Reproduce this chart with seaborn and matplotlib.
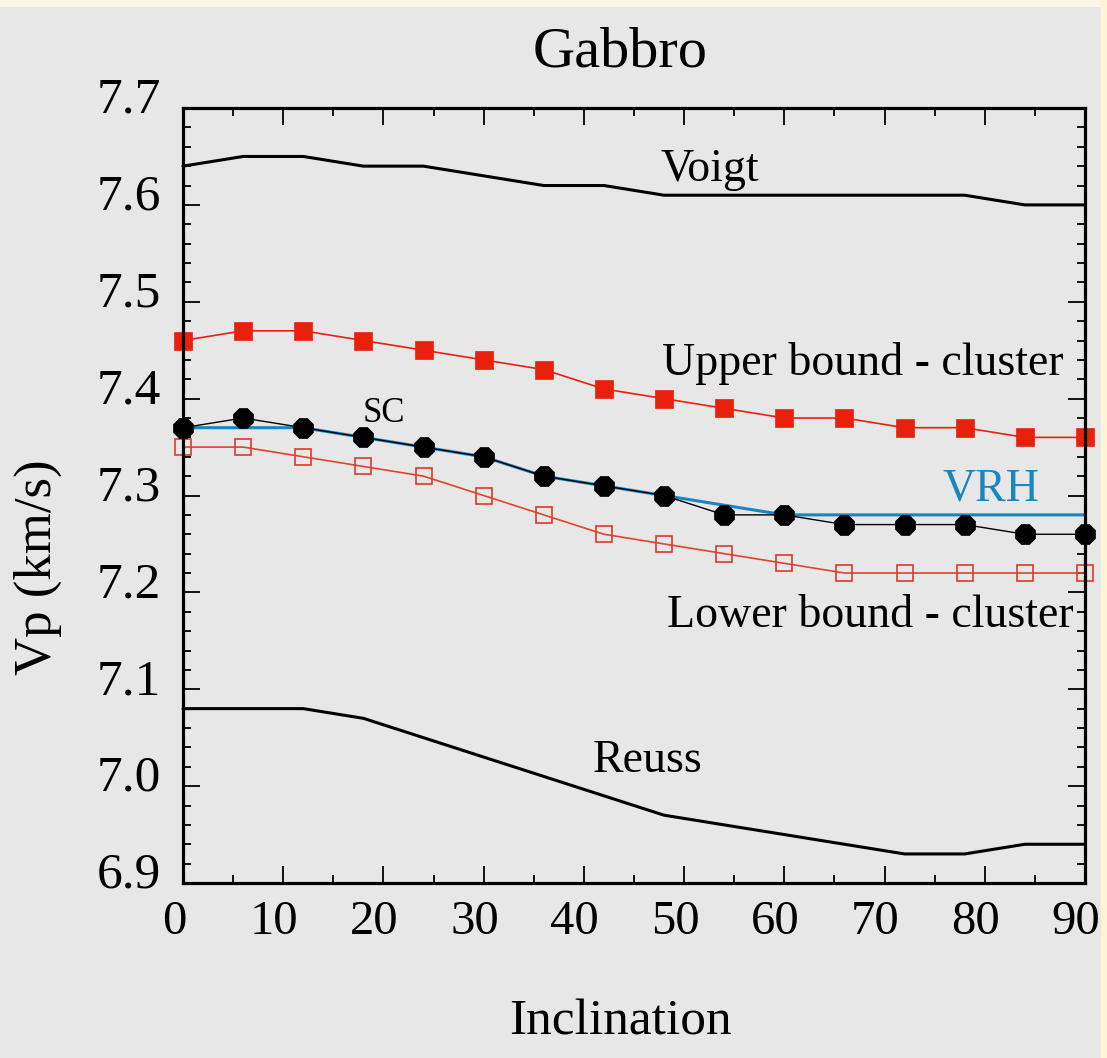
import numpy as np
import pandas as pd
import matplotlib
matplotlib.use("Agg")
import matplotlib.pyplot as plt
from matplotlib.patches import Rectangle
from matplotlib.ticker import MultipleLocator
from matplotlib.transforms import ScaledTranslation
import seaborn as sns

# Dados (Vp em km/s vs inclinação)
inclination = [0, 6, 12, 18, 24, 30, 36, 42, 48, 54, 60, 66, 72, 78, 84, 90]
voigt = [7.64, 7.65, 7.65, 7.64, 7.64, 7.63, 7.62, 7.62, 7.61, 7.61, 7.61, 7.61, 7.61, 7.61, 7.60, 7.60]
upper_cluster = [7.46, 7.47, 7.47, 7.46, 7.45, 7.44, 7.43, 7.41, 7.40, 7.39, 7.38, 7.38, 7.37, 7.37, 7.36, 7.36]
sc = [7.37, 7.38, 7.37, 7.36, 7.35, 7.34, 7.32, 7.31, 7.30, 7.28, 7.28, 7.27, 7.27, 7.27, 7.26, 7.26]
vrh = [7.37, 7.37, 7.37, 7.36, 7.35, 7.34, 7.32, 7.31, 7.30, 7.29, 7.28, 7.28, 7.28, 7.28, 7.28, 7.28]
lower_cluster = [7.35, 7.35, 7.34, 7.33, 7.32, 7.30, 7.28, 7.26, 7.25, 7.24, 7.23, 7.22, 7.22, 7.22, 7.22, 7.22]
reuss = [7.08, 7.08, 7.08, 7.07, 7.05, 7.03, 7.01, 6.99, 6.97, 6.96, 6.95, 6.94, 6.93, 6.93, 6.94, 6.94]

df = pd.DataFrame({
    "Inclination": inclination,
    "Voigt": voigt,
    "Upper": upper_cluster,
    "SC": sc,
    "VRH": vrh,
    "Lower": lower_cluster,
    "Reuss": reuss,
})

bg = "#e7e7e7"
red = "#e8200c"
blue = "#1a86bd"

sns.set_style("ticks", {"axes.facecolor": bg, "figure.facecolor": bg})
plt.rcParams["font.family"] = ["Liberation Serif", "DejaVu Serif"]
plt.rcParams["text.color"] = "black"
plt.rcParams["axes.labelcolor"] = "black"
plt.rcParams["xtick.color"] = "black"
plt.rcParams["ytick.color"] = "black"

fig = plt.figure(figsize=(11.07, 10.58), dpi=100)
ax = fig.add_axes([0.1653, 0.1654, 0.8148, 0.7325])

# faixas de cor nas bordas da imagem original (atrás de tudo)
fig.patches.append(Rectangle((0, 1 - 7 / 1058), 1, 7 / 1058, transform=fig.transFigure,
                             facecolor="#fdf6e6", edgecolor="none", zorder=-5))
fig.patches.append(Rectangle((1 - 6 / 1107, 0), 6 / 1107, 1, transform=fig.transFigure,
                             facecolor="#fdf3d8", edgecolor="none", zorder=-5))

sns.lineplot(data=df, x="Inclination", y="Voigt", ax=ax, color="black", linewidth=2.2)
sns.lineplot(data=df, x="Inclination", y="Reuss", ax=ax, color="black", linewidth=2.2)
sns.lineplot(data=df, x="Inclination", y="VRH", ax=ax, color=blue, linewidth=2.2)
sns.lineplot(data=df, x="Inclination", y="Upper", ax=ax, color=red, linewidth=1.2,
             marker="s", markersize=13, markeredgecolor=red, markeredgewidth=0.5)
sns.lineplot(data=df, x="Inclination", y="Lower", ax=ax, color="#e0442f", linewidth=1.2,
             marker="s", markersize=11.5, markerfacecolor="none",
             markeredgecolor="#dd3a2a", markeredgewidth=1.2)
sns.lineplot(data=df, x="Inclination", y="SC", ax=ax, color="black", linewidth=1.0,
             marker="8", markersize=15, markeredgecolor="black", markeredgewidth=0.5)

for line in ax.lines:
    line.set_clip_on(False)

ax.set_xlim(0, 90)
ax.set_ylim(6.9, 7.7)
ax.xaxis.set_major_locator(MultipleLocator(10))
ax.xaxis.set_minor_locator(MultipleLocator(5))
ax.yaxis.set_major_locator(MultipleLocator(0.1))
ax.yaxis.set_minor_locator(MultipleLocator(0.02))
ax.set_yticklabels([f"{v:.1f}" for v in ax.get_yticks()])

ax.tick_params(which="both", direction="in", top=True, right=True, width=1.3, colors="black")
ax.tick_params(which="major", length=12, pad=12)
ax.tick_params(axis="x", which="major", labelsize=35)
ax.tick_params(axis="y", which="major", labelsize=37, pad=16)
ax.tick_params(which="minor", length=6)
for s in ax.spines.values():
    s.set_linewidth(2.3)
    s.set_color("black")
    s.set_visible(True)

# rótulos dos eixos ligeiramente deslocados, como no original
shift_x = ScaledTranslation(-9 / 100, 0, fig.dpi_scale_trans)
for lbl in ax.get_xticklabels():
    lbl.set_transform(lbl.get_transform() + shift_x)
shift_y = ScaledTranslation(0, 13 / 100, fig.dpi_scale_trans)
for lbl in ax.get_yticklabels():
    lbl.set_transform(lbl.get_transform() + shift_y)

ax.set_xlabel("Inclination", fontsize=37)
ax.xaxis.set_label_coords(0.4845, -0.15)
ax.set_ylabel("Vp (km/s)", fontsize=38)
ax.yaxis.set_label_coords(-0.134, 0.408)

ax.text(0.4845, 1.053, "Gabbro", transform=ax.transAxes, fontsize=42,
        ha="center", va="baseline")

ax.text(47.6, 7.625, "Voigt", fontsize=33, va="baseline")
ax.text(47.8, 7.424, "Upper bound - cluster", fontsize=33, va="baseline")
ax.text(48.3, 7.164, "Lower bound - cluster", fontsize=33, va="baseline")
ax.text(40.9, 7.015, "Reuss", fontsize=33, va="baseline")
ax.text(75.8, 7.295, "VRH", fontsize=33, va="baseline", color=blue)
ax.text(17.9, 7.376, "SC", fontsize=25, va="baseline")

fig.savefig("out.png", dpi=100, facecolor=bg)
